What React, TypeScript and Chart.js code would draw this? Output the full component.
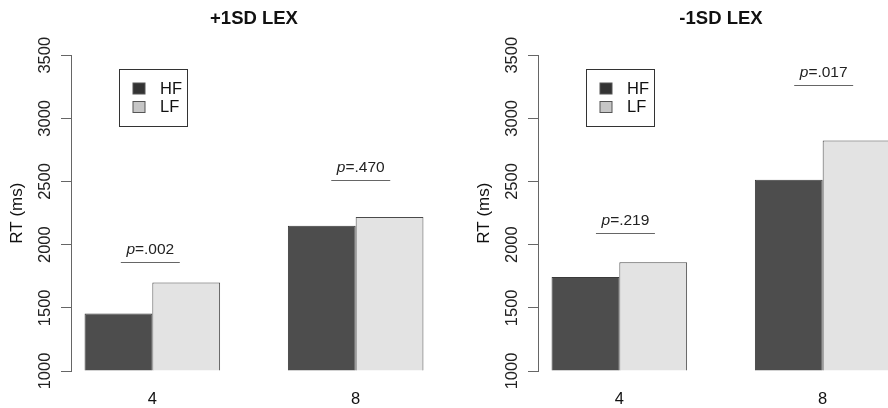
import React, { useEffect, useRef } from "react";
import { Chart, registerables } from "chart.js";

Chart.register(...registerables);

// ---- data ----
const categories = ["4", "8"];
const seriesNames = ["HF", "LF"];

const plusHF = [1455, 2150];
const plusLF = [1700, 2220];
const plusPLabels = [".002", ".470"];
const plusPHeights = [1865, 2510];
const plusPShift = [-0.04, 0.1];

const minusHF = [1745, 2515];
const minusLF = [1860, 2825];
const minusPLabels = [".219", ".017"];
const minusPHeights = [2090, 3265];
const minusPShift = [0.12, 0.02];

const yMin = 1000;
const yMax = 3500;
const yStep = 500;

const FONT = '"Liberation Sans", Arial, Helvetica, sans-serif';
const HF_FILL = "#4d4d4d";
const LF_FILL = "#e3e3e3";

const annotPlugin = {
  id: "annot",
  afterDatasetsDraw(chart: any, _args: any, opts: any) {
    const { ctx, chartArea } = chart;
    const x = chart.scales.x;
    const y = chart.scales.y;
    ctx.save();
    // p-value brackets
    const half = x.getPixelForValue(0.58) - x.getPixelForValue(0);
    opts.pLabels.forEach((lab: string, i: number) => {
      const cx = x.getPixelForValue(Number(categories[i]) + opts.pShift[i]);
      const ly = Math.round(y.getPixelForValue(opts.pHeights[i])) + 0.5;
      ctx.strokeStyle = "#666";
      ctx.lineWidth = 1.2;
      ctx.beginPath();
      ctx.moveTo(cx - half, ly);
      ctx.lineTo(cx + half, ly);
      ctx.stroke();
      ctx.fillStyle = "#222";
      ctx.textBaseline = "alphabetic";
      ctx.textAlign = "left";
      const itFont = `italic 15.5px ${FONT}`;
      const nFont = `15.5px ${FONT}`;
      ctx.font = itFont;
      const w1 = ctx.measureText("p").width;
      ctx.font = nFont;
      const rest = "=" + lab;
      const w2 = ctx.measureText(rest).width;
      const start = cx - (w1 + w2) / 2;
      const ty = ly - 8.5;
      ctx.font = itFont;
      ctx.fillText("p", start, ty);
      ctx.font = nFont;
      ctx.fillText(rest, start + w1, ty);
    });
    // legend box
    const bx = Math.round(chartArea.left + 47.5) + 0.5;
    const by = Math.round(chartArea.top + 13.5) + 0.5;
    ctx.strokeStyle = "#333";
    ctx.lineWidth = 1;
    ctx.fillStyle = "#fff";
    ctx.fillRect(bx, by, 68, 57);
    ctx.strokeRect(bx, by, 68, 57);
    const swatch = ["#333333", "#c6c6c6"];
    seriesNames.forEach((name, i) => {
      const sy = by + 13.5 + i * 18.5;
      ctx.fillStyle = swatch[i];
      ctx.fillRect(bx + 13.5, sy, 12, 11);
      ctx.strokeStyle = "#555";
      ctx.strokeRect(bx + 13.5, sy, 12, 11);
      ctx.fillStyle = "#111";
      ctx.font = `16.5px ${FONT}`;
      ctx.textAlign = "left";
      ctx.textBaseline = "middle";
      ctx.fillText(name, bx + 40.5, sy + 6);
    });
    ctx.restore();
  },
};

type PanelProps = {
  title: string;
  hf: number[];
  lf: number[];
  pLabels: string[];
  pHeights: number[];
  pShift: number[];
  left: number;
};

function Panel({ title, hf, lf, pLabels, pHeights, pShift, left }: PanelProps) {
  const ref = useRef<HTMLCanvasElement | null>(null);
  useEffect(() => {
    if (!ref.current) return;
    const chart = new Chart(ref.current, {
      type: "bar",
      data: {
        labels: categories,
        datasets: [
          {
            label: seriesNames[0],
            data: hf,
            backgroundColor: HF_FILL,
            borderColor: "#3a3a3a",
            borderWidth: 1,
            base: yMin,
            categoryPercentage: 2 / 3,
            barPercentage: 1,
          },
          {
            label: seriesNames[1],
            data: lf,
            backgroundColor: LF_FILL,
            borderColor: "#4a4a4a",
            borderWidth: 1,
            base: yMin,
            categoryPercentage: 2 / 3,
            barPercentage: 1,
          },
        ],
      } as any,
      options: {
        animation: false,
        responsive: false,
        maintainAspectRatio: false,
        layout: { padding: { left: 0, right: 7, top: 0, bottom: 0 } },
        plugins: {
          legend: { display: false },
          tooltip: { enabled: false },
          title: {
            display: true,
            text: title,
            fullSize: false,
            color: "#111",
            font: { family: FONT, size: 18.5, weight: "bold", lineHeight: 1.2 },
            padding: { top: 8, bottom: 25 },
          },
          annot: { pLabels, pHeights, pShift },
        } as any,
        scales: {
          x: {
            type: "linear",
            min: 2.4,
            max: 9.6,
            offset: false,
            grid: { display: false, drawTicks: false },
            border: { display: false },
            afterBuildTicks: (s: any) => {
              s.ticks = categories.map((c) => ({ value: Number(c) }));
            },
            afterFit: (s: any) => {
              s.height = 37;
            },
            ticks: {
              autoSkip: false,
              maxRotation: 0,
              padding: 19,
              color: "#111",
              font: { family: FONT, size: 16.5, lineHeight: 1.2 },
              callback: (_v: any, i: number) => categories[i],
            },
          },
          y: {
            min: yMin,
            max: yMax,
            afterFit: (s: any) => {
              s.width = 71;
            },
            ticks: {
              stepSize: yStep,
              minRotation: 90,
              maxRotation: 90,
              crossAlign: "center",
              padding: -3,
              color: "#222",
              font: { family: FONT, size: 16.5 },
              callback: (v: any) => String(v),
            },
            grid: {
              drawOnChartArea: false,
              drawTicks: true,
              tickLength: 10,
              color: "#666",
            },
            border: { display: true, color: "#666" },
            title: {
              display: true,
              text: "RT (ms)",
              color: "#111",
              font: { family: FONT, size: 17, lineHeight: 1.2 },
              padding: { top: 7, bottom: 0 },
            },
          },
        } as any,
      },
      plugins: [annotPlugin as any],
    });
    return () => chart.destroy();
  }, [title, hf, lf, pLabels, pHeights, pShift]);
  return (
    <canvas
      ref={ref}
      width={444}
      height={408}
      style={{ position: "absolute", left, top: 0, width: 444, height: 408, display: "block" }}
    />
  );
}

export default function App() {
  return (
    <div
      style={{
        position: "fixed",
        left: 0,
        top: 0,
        width: 888,
        height: 408,
        overflow: "hidden",
        background: "#fff",
      }}
    >
      <Panel
        title="+1SD LEX"
        hf={plusHF}
        lf={plusLF}
        pLabels={plusPLabels}
        pHeights={plusPHeights}
        pShift={plusPShift}
        left={0}
      />
      <Panel
        title="-1SD LEX"
        hf={minusHF}
        lf={minusLF}
        pLabels={minusPLabels}
        pHeights={minusPHeights}
        pShift={minusPShift}
        left={467}
      />
    </div>
  );
}
